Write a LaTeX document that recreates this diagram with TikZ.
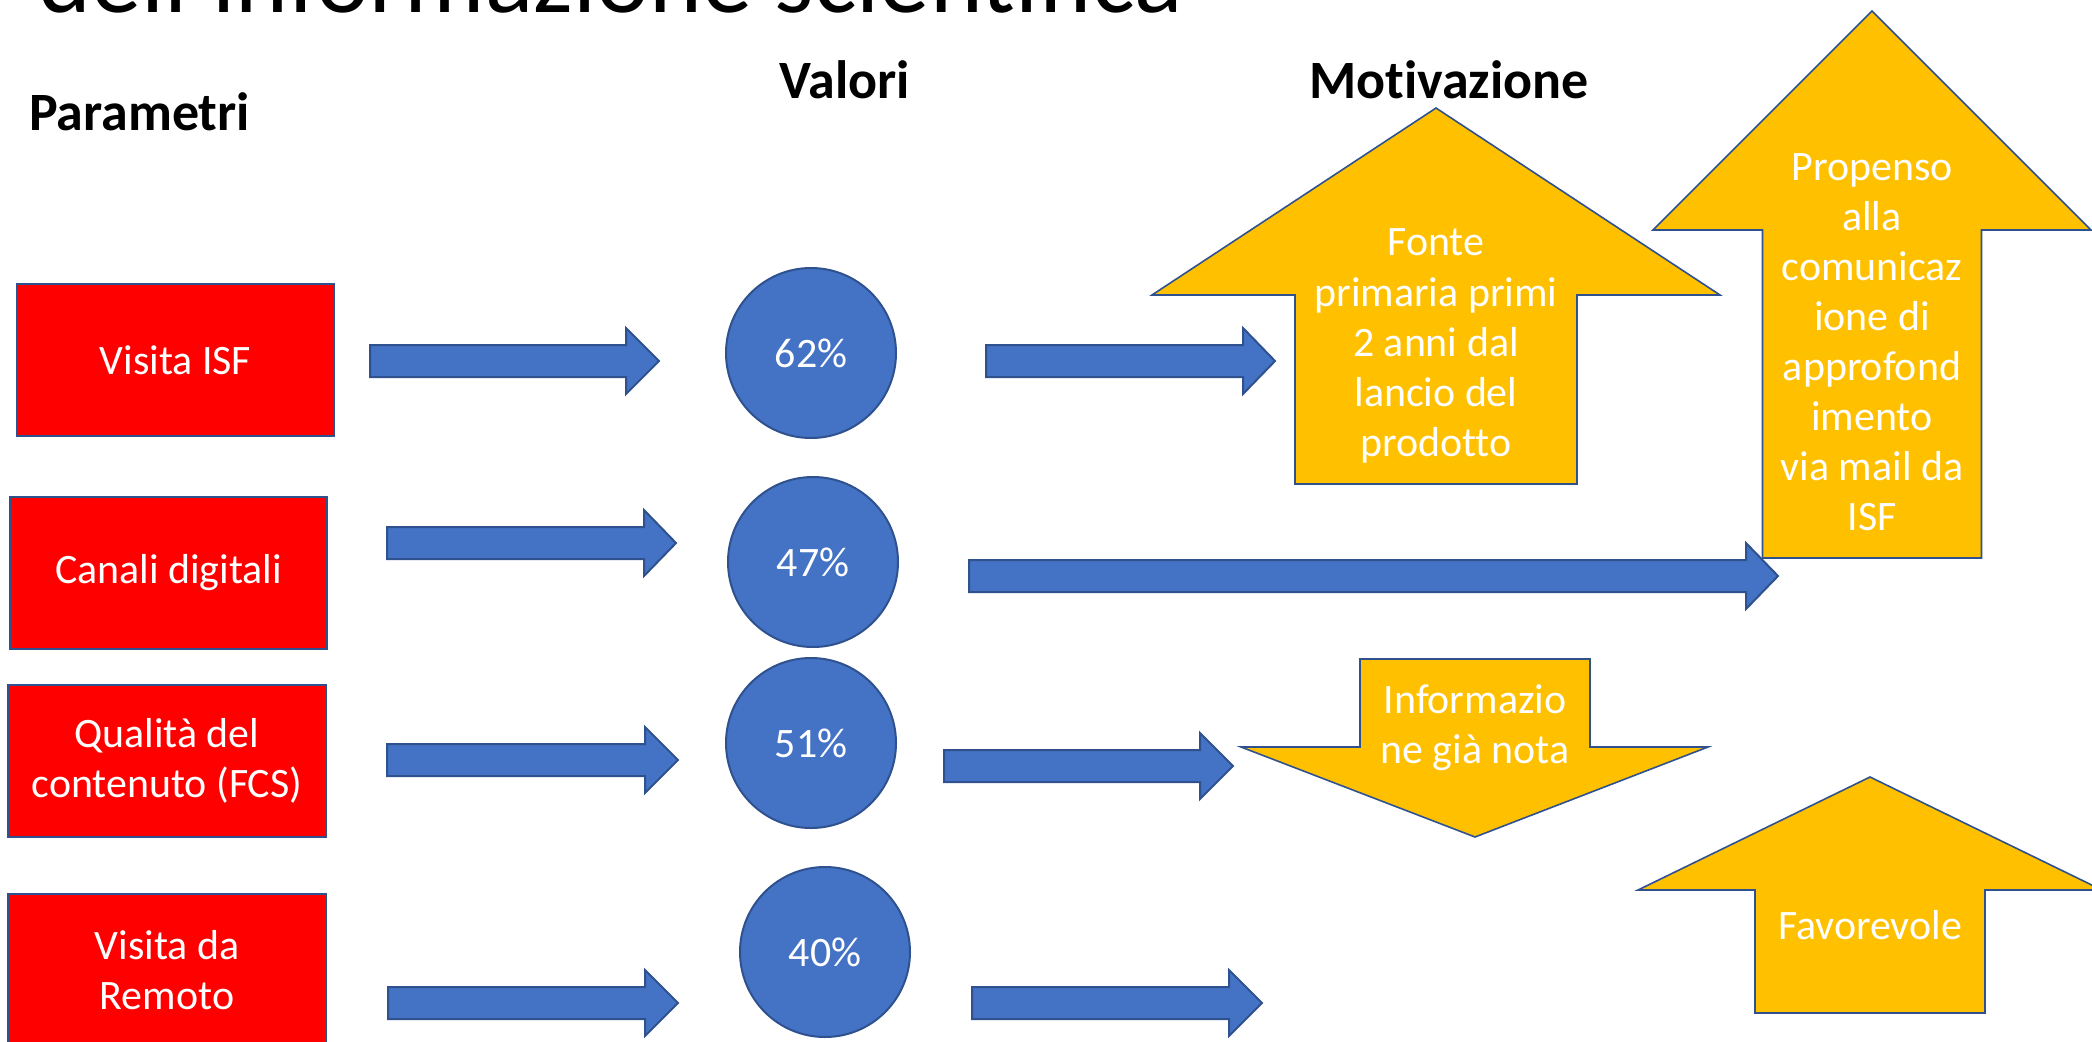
\documentclass[tikz,border=0pt]{standalone}
\usepackage{fontspec}
\setmainfont{Carlito}[Ligatures=NoCommon]
\definecolor{pred}{HTML}{FF0000}
\definecolor{myblue}{HTML}{4472C4}
\definecolor{bordblue}{HTML}{2F528F}
\definecolor{myyellow}{HTML}{FFC000}
\newcommand{\mybody}{\fontsize{29.8}{35.6}\selectfont}
\newcommand{\myhead}{\fontsize{38.4}{46}\selectfont\bfseries}
% right block arrow: shaft start x, head base x, tip x, centre y
\newcommand{\blockR}[4]{\draw[barrow] ({#1},{#4-16}) -- ({#2},{#4-16}) -- ({#2},{#4-33}) -- ({#3},{#4}) -- ({#2},{#4+33}) -- ({#2},{#4+16}) -- ({#1},{#4+16}) -- cycle;}
% up arrow: centre x, tip y, head base y, head half width, shaft half width, bottom y
\newcommand{\upArrow}[6]{\draw[yarrow] ({#1},{#2}) -- ({#1+#4},{#3}) -- ({#1+#5},{#3}) -- ({#1+#5},{#6}) -- ({#1-#5},{#6}) -- ({#1-#5},{#3}) -- ({#1-#4},{#3}) -- cycle;}
\begin{document}
\begin{tikzpicture}[x=0.25mm,y=-0.25mm,
  param/.style={draw=bordblue, fill=pred, line width=0.5mm, minimum width=79.25mm, minimum height=38mm, text=white, font=\mybody, align=center, inner sep=0pt},
  val/.style={circle, draw=bordblue, fill=myblue, line width=0.5mm, minimum size=42.5mm, text=white, font=\mybody, inner sep=0pt},
  barrow/.style={draw=bordblue, fill=myblue, line width=0.5mm, line join=miter},
  yarrow/.style={draw=bordblue, fill=myyellow, line width=0.4mm, line join=miter},
  ytext/.style={text=white, font=\mybody, align=center, inner sep=0pt},
  header/.style={font=\myhead, inner sep=0pt}]
\useasboundingbox (0,0) rectangle (2092,1042);

% title (cut off at the top, as in the reference)
\node[anchor=base west, inner sep=0pt] (title) at (38,12) {\resizebox{286mm}{!}{dell’informazione scientifica}};

% headers
\node[header, anchor=base west] (hpar) at (29,130) {Parametri};
\node[header, anchor=base] (hval) at (845,98) {Valori};
\node[header, anchor=base] (hmot) at (1449,98) {Motivazione};

% parameters
\node[param] (p1) at (175.5,360) {Visita ISF};
\node[param] (p2) at (168.5,573) {Canali digitali};
\node[param] (p3) at (167,761) {Qualità del\\contenuto (FCS)};
\node[param] (p4) at (167,970) {Visita da\\Remoto};

% values
\node[val] (v1) at (811,353) {62\%};
\node[val] (v2) at (813,562) {47\%};
\node[val] (v3) at (811,743) {51\%};
\node[val] (v4) at (825,952) {40\%};

% motivation arrows
\upArrow{1436}{108}{295}{284}{141}{484}
\node[ytext] (m1) at (1436,346) {Fonte\\primaria primi\\2 anni dal\\lancio del\\prodotto};
\upArrow{1872}{11}{230}{219}{109.5}{558}
\node[ytext] (m2) at (1872,342) {Propenso\\alla\\comunicaz\\ione di\\approfond\\imento\\via mail da\\ISF};
\draw[yarrow] (1475,837) -- (1708,747) -- (1590,747) -- (1590,659) -- (1360,659) -- (1360,747) -- (1241,747) -- cycle;
\node[ytext] (m3) at (1475,728) {Informazio\\ne già nota};
\upArrow{1870}{777}{890}{232}{115}{1013}
\node[ytext] (m4) at (1870,925) {Favorevole};

% blue block arrows
\blockR{370}{626}{659}{361}
\blockR{387}{644}{676}{543}
\blockR{387}{645}{678}{760}
\blockR{388}{645}{678}{1003}
\blockR{986}{1243}{1275}{361}
\blockR{969}{1746}{1778}{576}
\blockR{944}{1200}{1233}{766}
\blockR{972}{1229}{1262}{1003}
\end{tikzpicture}
\end{document}
